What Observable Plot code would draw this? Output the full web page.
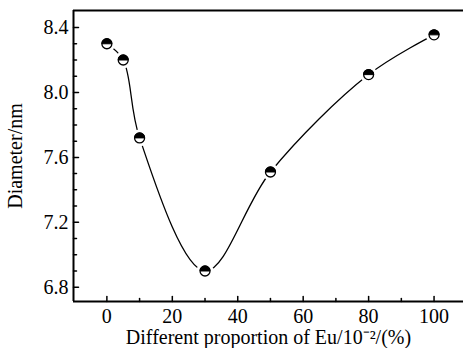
<!DOCTYPE html>
<html><head><meta charset="utf-8">
<script src="https://cdn.jsdelivr.net/npm/d3@7"></script>
<script src="https://cdn.jsdelivr.net/npm/@observablehq/plot@0.6"></script>
<style>body{margin:0;background:#fff}svg{display:block}</style>
</head><body><div id="chart"></div>
<script>
const proportion = [0, 5, 10, 30, 50, 80, 100];
const diameter = [8.30, 8.20, 7.72, 6.90, 7.51, 8.11, 8.355];
const xMajorTicks = [0, 20, 40, 60, 80, 100];
const xMinorTicks = [10, 30, 50, 70, 90];
const yMajorTicks = [6.8, 7.2, 7.6, 8.0, 8.4];
const yMinorTicks = [6.9, 7.0, 7.1, 7.3, 7.4, 7.5, 7.7, 7.8, 7.9, 8.1, 8.2, 8.3];
const xDomain = [-10.2, 109];
const yDomain = [6.712, 8.505];

const data = proportion.map((p, i) => ({p, d: diameter[i]}));
const tickShape = {draw(ctx, l) { ctx.moveTo(0, 0); ctx.lineTo(0, -l); }};
const topHalf = {draw(ctx, size) { const r = Math.sqrt(size / Math.PI); ctx.moveTo(r, 0); ctx.arc(0, 0, r, 0, Math.PI, true); ctx.closePath(); }};

const chart = Plot.plot({
  width: 463, height: 348,
  marginLeft: 73, marginTop: 10, marginRight: 0, marginBottom: 47,
  style: {fontFamily: "'Liberation Serif', 'Times New Roman', serif", fontSize: "20px", color: "#000", background: "#fff"},
  x: {domain: xDomain},
  y: {domain: yDomain},
  marks: [
    Plot.line(data, {x: "p", y: "d", curve: "catmull-rom", stroke: "#000", strokeWidth: 1.3}),
    Plot.dot(data, {x: "p", y: "d", r: 8.5, fill: "#fff", stroke: null}),
    Plot.dot(data, {x: "p", y: "d", r: 5, fill: "#fff", stroke: "#000", strokeWidth: 1.3}),
    Plot.dot(data, {x: "p", y: "d", r: 5, symbol: topHalf, fill: "#000", stroke: "#000", strokeWidth: 1}),
    Plot.ruleX([xDomain[0]], {stroke: "#000", strokeWidth: 2}),
    Plot.ruleY([yDomain[0], yDomain[1]], {stroke: "#000", strokeWidth: 2}),
    Plot.vector(xMajorTicks, {x: d => d, y: yDomain[0], length: 5, rotate: 0, anchor: "start", shape: tickShape, stroke: "#000", strokeWidth: 1.5}),
    Plot.vector(xMinorTicks, {x: d => d, y: yDomain[0], length: 3, rotate: 0, anchor: "start", shape: tickShape, stroke: "#000", strokeWidth: 1.5}),
    Plot.vector(yMajorTicks, {x: xDomain[0], y: d => d, length: 5, rotate: 90, anchor: "start", shape: tickShape, stroke: "#000", strokeWidth: 1.5}),
    Plot.vector(yMinorTicks, {x: xDomain[0], y: d => d, length: 3, rotate: 90, anchor: "start", shape: tickShape, stroke: "#000", strokeWidth: 1.5}),
    Plot.axisX({ticks: xMajorTicks, tickSize: 0, tickPadding: 7, tickFormat: d => String(d),
      label: "Different proportion of Eu/10⁻²/(%)", labelAnchor: "center", labelArrow: "none", labelOffset: 42}),
    Plot.axisY({ticks: yMajorTicks, tickSize: 0, tickPadding: 5, tickFormat: d => d.toFixed(1),
      label: "Diameter/nm", labelAnchor: "center", labelArrow: "none", labelOffset: 66})
  ]
});
document.getElementById("chart").appendChild(chart);
</script></body></html>
